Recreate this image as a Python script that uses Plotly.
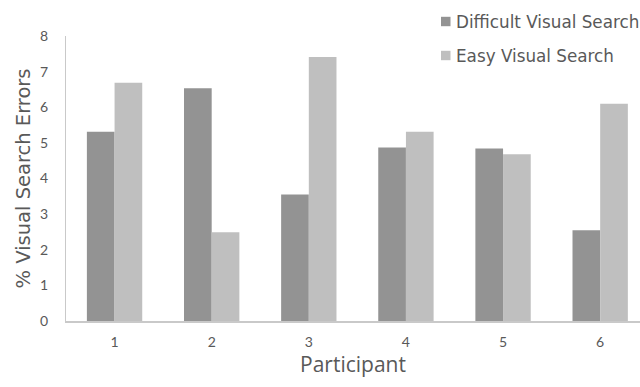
import plotly.graph_objects as go

participants = ["1", "2", "3", "4", "5", "6"]
series_names = ["Difficult Visual Search", "Easy Visual Search"]
difficult_search = [5.31, 6.53, 3.55, 4.87, 4.84, 2.55]
easy_search = [6.69, 2.49, 7.41, 5.31, 4.68, 6.10]
y_ticks = [0, 1, 2, 3, 4, 5, 6, 7, 8]

text_grey = "#595959"
axis_grey = "#c9c9c9"
bar_colors = ["#939393", "#bfbfbf"]

W, H = 640, 387
M_L, M_R, M_T, M_B = 66, 0, 36, 66
plot_w = W - M_L - M_R
plot_h = H - M_T - M_B


def px_to_paper_x(px):
    return (px - M_L) / plot_w


def px_to_paper_y(py):
    return (H - M_B - py) / plot_h


fig = go.Figure()
for name, values, color in zip(series_names, [difficult_search, easy_search], bar_colors):
    fig.add_trace(go.Bar(
        x=participants, y=values, name=name,
        marker=dict(color=color, line=dict(width=0)),
    ))

# Legend drawn by hand so it can sit near the right edge without squeezing the plot
legend_rows_y = [21.5, 55.5]
for name, color, row_y in zip(series_names, bar_colors, legend_rows_y):
    fig.add_shape(
        type="rect", xref="paper", yref="paper",
        x0=px_to_paper_x(441), x1=px_to_paper_x(450.5),
        y0=px_to_paper_y(row_y + 4.7), y1=px_to_paper_y(row_y - 4.7),
        fillcolor=color, line=dict(width=0),
    )
    fig.add_annotation(
        xref="paper", yref="paper",
        x=px_to_paper_x(454), y=px_to_paper_y(row_y),
        xanchor="left", yanchor="middle", showarrow=False,
        text=name, font=dict(family="DejaVu Sans", size=16.8, color=text_grey),
    )

fig.update_layout(
    width=W, height=H,
    margin=dict(l=M_L, r=M_R, t=M_T, b=M_B),
    paper_bgcolor="white", plot_bgcolor="white",
    barmode="group", bargap=0.43, bargroupgap=0,
    font=dict(family="Lato", color=text_grey, size=14),
    showlegend=False,
    xaxis=dict(
        type="category", range=[-0.5, 5.41],
        showline=True, linecolor=axis_grey, linewidth=1.5,
        showgrid=False, ticks="", ticklabelstandoff=7,
        tickfont=dict(family="Lato", size=14, color=text_grey),
        title=dict(text="Participant", standoff=8,
                   font=dict(family="Open Sans", size=21, color=text_grey)),
    ),
    yaxis=dict(
        range=[0, 8], tickvals=y_ticks,
        showline=True, linecolor=axis_grey, linewidth=1,
        showgrid=False, zeroline=False, ticks="", ticklabelstandoff=14,
        tickfont=dict(family="Lato", size=14, color=text_grey),
        title=dict(text="% Visual Search Errors", standoff=4,
                   font=dict(family="DejaVu Sans", size=19.5, color=text_grey)),
    ),
)

fig.write_html("out.html")
